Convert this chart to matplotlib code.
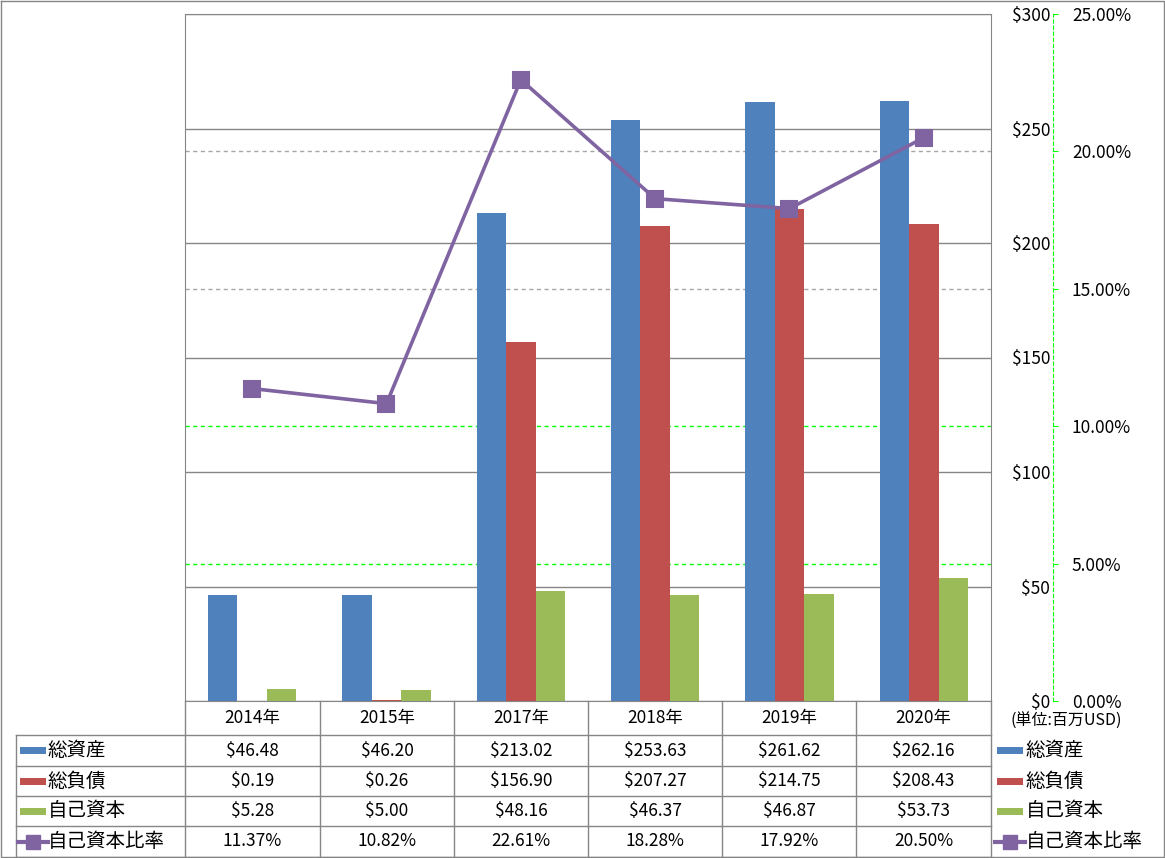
import matplotlib.pyplot as plt
from matplotlib.ticker import FuncFormatter
from matplotlib.transforms import blended_transform_factory
from matplotlib.lines import Line2D

plt.rcParams['font.family'] = ['Noto Sans CJK JP', 'DejaVu Sans']

# data
years = ['2014年', '2015年', '2017年', '2018年', '2019年', '2020年']
total_assets = [46.48, 46.20, 213.02, 253.63, 261.62, 262.16]
total_liab = [0.19, 0.26, 156.90, 207.27, 214.75, 208.43]
equity = [5.28, 5.00, 48.16, 46.37, 46.87, 53.73]
equity_ratio = [11.37, 10.82, 22.61, 18.28, 17.92, 20.50]  # %

series_names = ['総資産', '総負債', '自己資本']
ratio_name = '自己資本比率'
colors = ['#4F81BD', '#C0504D', '#9BBB59']
purple = '#8064A2'
gray = '#868686'
green = '#00FF00'

y1_ticks = [0, 50, 100, 150, 200, 250, 300]
y2_ticks = [0, 5, 10, 15, 20, 25]
y2_grid = [5, 10, 15, 20]
y2_grid_colors = [green, green, '#A6A6A6', '#A6A6A6']

W, H = 1165, 858
fig = plt.figure(figsize=(W / 100, H / 100), dpi=100)


def fx(px):
    return px / W


def fy(py):
    return 1 - py / H


# plot area in pixels
L, R, T, B = 185, 991, 14, 701
ax = fig.add_axes([fx(L), fy(B), fx(R) - fx(L), fy(T) - fy(B)])
ax2 = ax.twinx()

x = list(range(len(years)))
bw = 0.22
for i, (vals, c) in enumerate(zip([total_assets, total_liab, equity], colors)):
    ax.bar([k + (i - 1) * bw for k in x], vals, width=bw, color=c, zorder=2)

ax.set_xlim(-0.5, len(years) - 0.5)
ax.set_ylim(0, 300)
ax.set_yticks(y1_ticks)
ax.yaxis.tick_right()
ax.yaxis.set_major_formatter(FuncFormatter(lambda v, p: f'${v:.0f}'))
ax.tick_params(axis='y', length=0, pad=42.5, labelsize=12.5)
plt.setp(ax.get_yticklabels(), ha='right')
ax.set_xticks([])
ax.set_axisbelow(True)
ax.grid(axis='y', color=gray, lw=1)
for s in ax.spines.values():
    s.set_color(gray)

ax2.set_ylim(0, 25)
ax2.set_yticks(y2_ticks)
ax2.yaxis.set_major_formatter(FuncFormatter(lambda v, p: f'{v:.2f}%'))
ax2.tick_params(axis='y', direction='out', length=3.6, color=green, pad=10, labelsize=12.5)
for k in ['left', 'top', 'bottom']:
    ax2.spines[k].set_visible(False)
ax2.spines['right'].set_position(('axes', (1053 - L) / (R - L)))
ax2.spines['right'].set_color(green)
ax2.spines['right'].set_linestyle((0, (3, 2.5)))

# secondary gridlines behind bars
trans = blended_transform_factory(ax.transAxes, ax2.transData)
for v, c in zip(y2_grid, y2_grid_colors):
    ax.plot([0, 1], [v, v], transform=trans, color=c, lw=1, ls=(0, (3, 2.5)), zorder=1)
ax.set_ylim(0, 300)

ax2.plot(x, equity_ratio, color=purple, lw=2.6, marker='s', ms=12,
         mfc=purple, mec=purple, mew=1.5, zorder=3)

# data table
tb = fig.add_axes([0, 0, 1, 1], zorder=5)
tb.set_xlim(0, W)
tb.set_ylim(H, 0)
tb.axis('off')

edges = [185, 320, 454, 588, 722, 856, 991]
rows = [701, 735, 766, 796, 826, 857]
lc = dict(color=gray, lw=1)
tb.plot([185, 185], [701, 857], **lc)
tb.plot([991, 991], [701, 857], **lc)
for e in edges[1:-1]:
    tb.plot([e, e], [701, 857], **lc)
tb.plot([16, 16], [735, 857], **lc)
for r in rows[1:]:
    tb.plot([16, 991], [r, r], **lc)
# outer frame
tb.plot([0.5, W - 1.5, W - 1.5, 0.5, 0.5], [0.5, 0.5, H - 1.5, H - 1.5, 0.5], **lc)

fs = 12.5
fs_jp = 14
centers = [(a + b) / 2 for a, b in zip(edges[:-1], edges[1:])]
row_c = [(a + b) / 2 for a, b in zip(rows[:-1], rows[1:])]
for cx, yr in zip(centers, years):
    tb.text(cx, row_c[0], yr, ha='center', va='center', fontsize=fs)

table_rows = [
    [f'${v:.2f}' for v in total_assets],
    [f'${v:.2f}' for v in total_liab],
    [f'${v:.2f}' for v in equity],
    [f'{v:.2f}%' for v in equity_ratio],
]
for ri, vals in enumerate(table_rows):
    for cx, s in zip(centers, vals):
        tb.text(cx, row_c[ri + 1], s, ha='center', va='center', fontsize=fs)


def legend_key(x0, yc, idx):
    if idx < 3:
        tb.fill_between([x0, x0 + 26], yc - 3.5, yc + 3.5, color=colors[idx], lw=0)
    else:
        tb.add_line(Line2D([x0 - 2, x0 + 28], [yc, yc], color=purple, lw=3))
        tb.add_line(Line2D([x0 + 13], [yc], marker='s', ms=10, color=purple))


names = series_names + [ratio_name]
for ri, nm in enumerate(names):
    yc = row_c[ri + 1]
    legend_key(20, yc, ri)
    tb.text(48, yc, nm, ha='left', va='center', fontsize=fs_jp)
    legend_key(997, yc, ri)
    tb.text(1026, yc, nm, ha='left', va='center', fontsize=fs_jp)

tb.text(1066, 721, '(単位:百万USD)', ha='center', va='center', fontsize=11.5)

fig.savefig('out.png', dpi=100)
